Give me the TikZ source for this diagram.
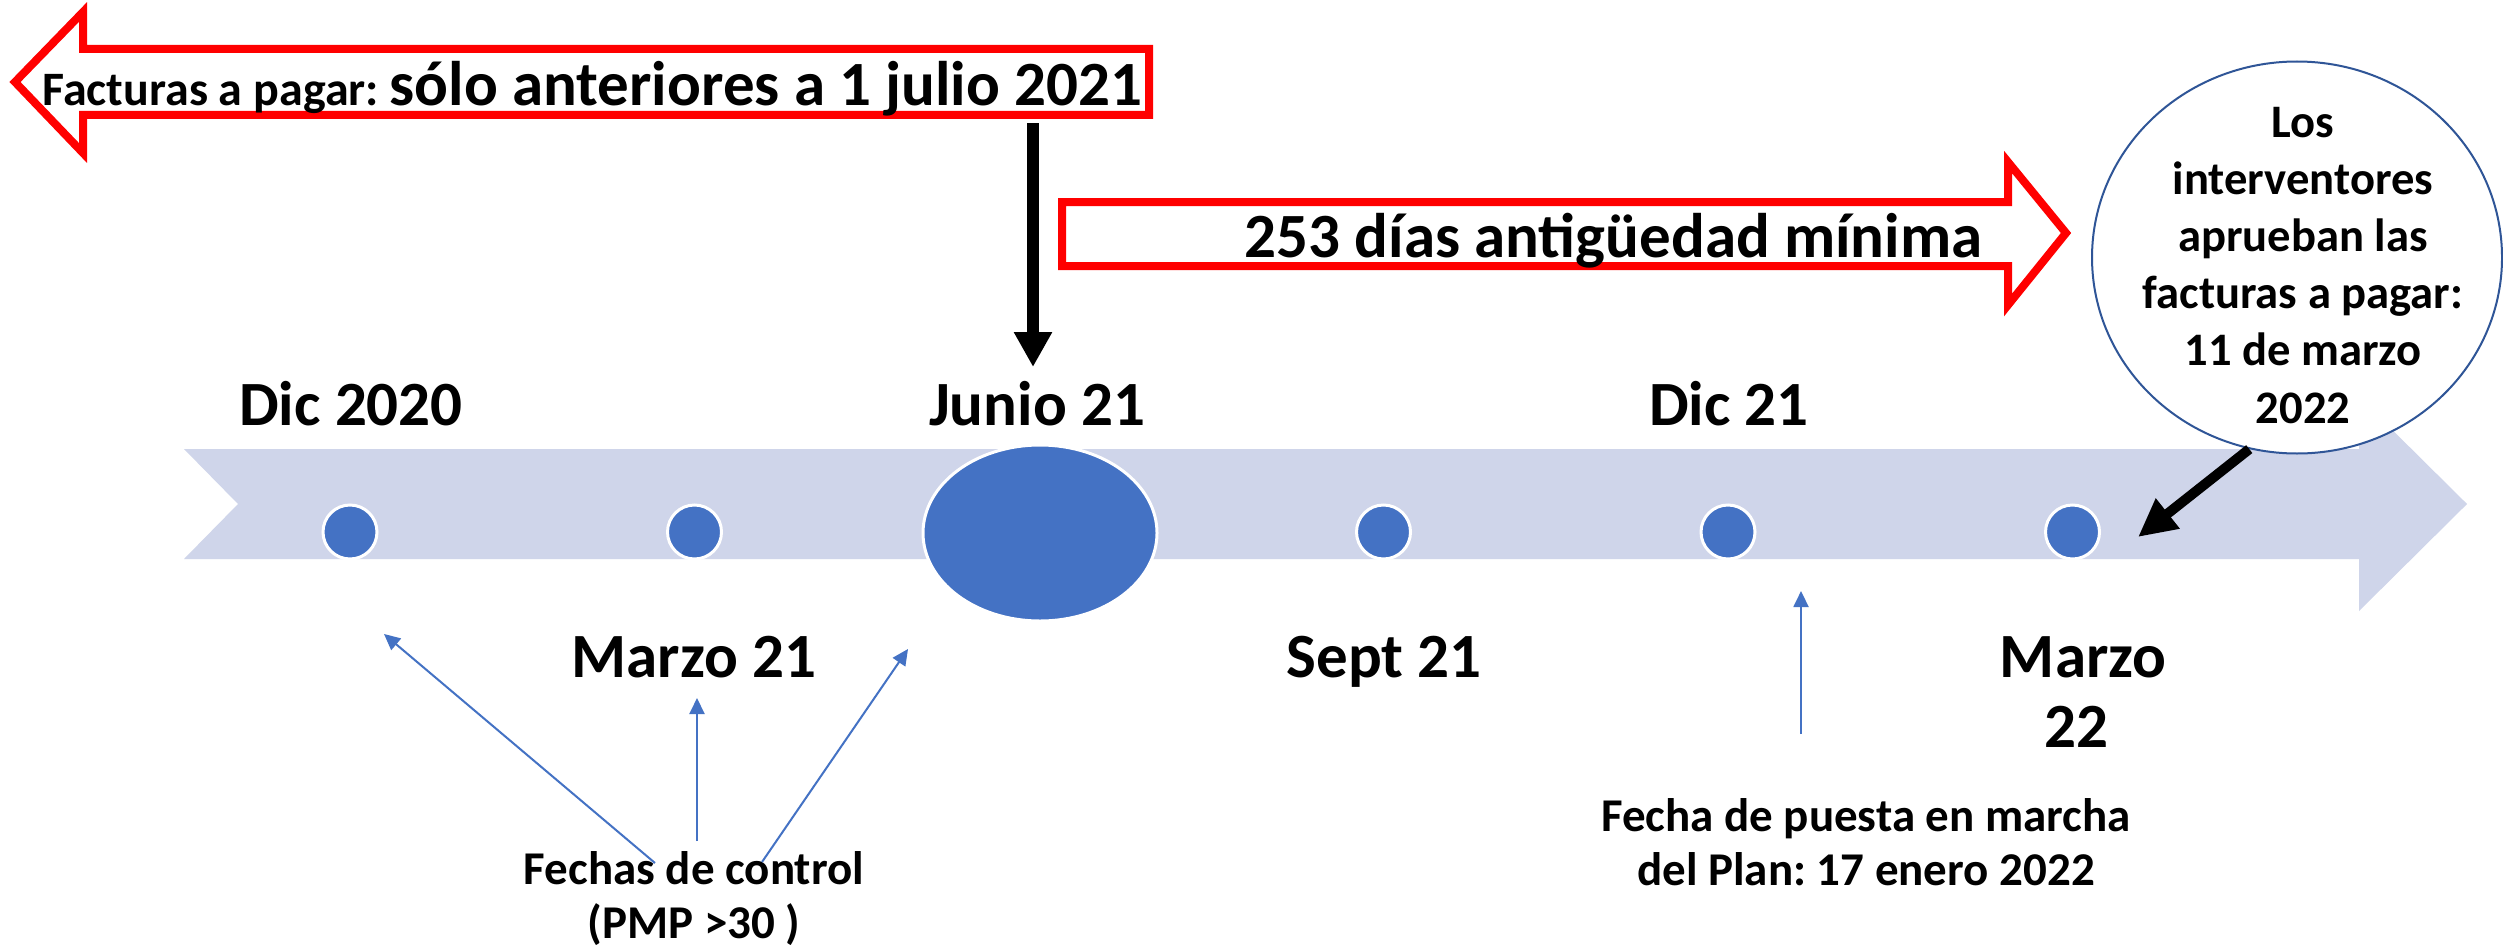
\documentclass[tikz,border=0pt]{standalone}
\usepackage{fontspec}
\setmainfont{Carlito}
\usetikzlibrary{arrows.meta,shapes.geometric}
\definecolor{bandcol}{HTML}{CFD5EA}
\definecolor{dotblue}{HTML}{4472C4}
\definecolor{ringblue}{HTML}{2F5597}
\definecolor{redline}{HTML}{FF0000}
\frenchspacing
\begin{document}
\begin{tikzpicture}[x=0.5pt,y=-0.5pt,
  redarrow/.style={draw=redline, line width=4pt, fill=white, miter limit=10},
  dot/.style={circle, fill=dotblue, draw=white, line width=1.5pt, minimum size=27pt, inner sep=0pt},
  bigtxt/.style={font=\fontsize{31.5}{35}\selectfont\bfseries, inner sep=0pt, align=center, anchor=base},
  midtxt/.style={font=\fontsize{23.5}{27}\selectfont\bfseries, inner sep=0pt, align=center, anchor=base},
  circtxt/.style={font=\fontsize{23.3}{28.6}\selectfont\bfseries, inner sep=0pt, align=center, anchor=base},
  bluearrow/.style={draw=dotblue, line width=1pt, -{Triangle[width=7.5pt,length=8pt]}},
  blackarrow/.style={draw=black, line width=6pt, -{Triangle[width=18pt,length=17.5pt]}},
  blackarrowb/.style={draw=black, line width=5pt, -{Triangle[width=18pt,length=19pt]}}]
\useasboundingbox (0,0) rectangle (2503,947);
\fill[white] (0,0) rectangle (2503,947);

% timeline band
\fill[bandcol] (184,449) -- (2359,449) -- (2359,397) -- (2467,504) -- (2359,611) -- (2359,559) -- (184,559) -- (238,504) -- cycle;

% dots
\node[dot] (d1) at (350,532) {};
\node[dot] (d2) at (694.5,532) {};
\node[ellipse, fill=dotblue, draw=white, line width=1.5pt, minimum width=117pt, minimum height=88pt, inner sep=0pt] (jun) at (1040,533) {};
\node[dot] (d4) at (1383.5,532) {};
\node[dot] (d5) at (1728,532) {};
\node[dot] (d6) at (2072.5,532) {};

% top labels
\node[bigtxt] (ldic20) at (351,425) {Dic 2020};
\node[bigtxt] (ljun) at (1037,425) {Junio 21};
\node[bigtxt] (ldic21) at (1729,425) {Dic 21};
% bottom labels
\node[bigtxt] (lmar21) at (694,677) {Marzo 21};
\node[bigtxt] (lsep) at (1384,677) {Sept 21};
\node[bigtxt] (lmar22) at (2076,747) {\kern0.226em Marzo\\22};

% left red arrow
\draw[redarrow] (1149,49) -- (83,49) -- (83,12) -- (15,82) -- (83,153) -- (83,115) -- (1149,115) -- cycle;
\node[font=\fontsize{31.5}{35}\selectfont\bfseries, inner sep=0pt, anchor=base west] (facturas) at (42,105)
  {{\fontsize{24}{28}\selectfont Facturas a pagar: }sólo anteriores a 1 julio 2021};

% right red arrow
\draw[redarrow] (1062,202) -- (2008,202) -- (2008,162) -- (2066,233) -- (2008,305) -- (2008,266) -- (1062,266) -- cycle;
\node[bigtxt] (dias) at (1613.5,257) {253 días antigüedad mínima};

% down arrow
\coordinate (dstart) at (1033,123);
\coordinate (dend) at (1033,367);
\draw[blackarrow] (dstart) -- (dend);

% callout
\node[ellipse, draw=ringblue, line width=1pt, fill=white, minimum width=205pt, minimum height=196pt, inner sep=0pt] (callout) at (2297,257.5) {};
\node[circtxt] (callouttxt) at (2303,423) {Los\\interventores\\aprueban las\\facturas a pagar:\\11 de marzo\\2022};
\coordinate (ctip) at (2138,537);
\draw[blackarrowb] (callout.256) -- (ctip);

% control dates
\node[midtxt] (control) at (694,938) {Fechas de control\\(PMP >30 )};
\coordinate (c1s) at (655,863);
\coordinate (c1e) at (384,634);
\coordinate (c2s) at (697,841);
\coordinate (c2e) at (697,698);
\coordinate (c3s) at (762,862);
\coordinate (c3e) at (908,649);
\draw[bluearrow] (c1s) -- (c1e);
\draw[bluearrow] (c2s) -- (c2e);
\draw[bluearrow] (c3s) -- (c3e);

% plan start
\node[midtxt] (plan) at (1866,885) {Fecha de puesta en marcha\\del Plan: 17 enero 2022};
\coordinate (p1s) at (1801,734);
\coordinate (p1e) at (1801,591);
\draw[bluearrow] (p1s) -- (p1e);
\end{tikzpicture}
\end{document}
